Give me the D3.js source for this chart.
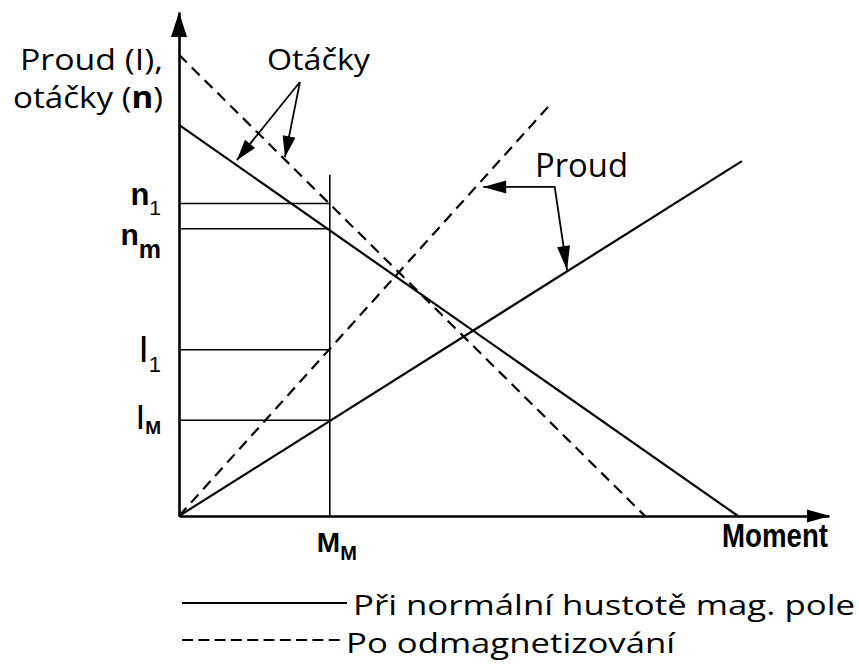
<!DOCTYPE html>
<html>
<head>
<meta charset="utf-8">
<script src="https://cdn.jsdelivr.net/npm/d3@7"></script>
<style>
body { margin: 0; background: #fff; }
svg { display: block; }
</style>
</head>
<body>
<div id="chart-area"></div>
<script>
// values, both axes in relative units 0..100
var speedNormal = [[0, 77.6], [86.0, 0]];
var speedDemag = [[0, 91.5], [71.7, 0]];
var currentNormal = [[0, 0], [86.6, 70.4]];
var currentDemag = [[0, 0], [56.8, 81.2]];
var momentM = 23.2;
var guideTop = 67.7;
var levelMain = ["n", "n", "I", "I"];
var levelSub = ["1", "m", "1", "M"];
var levelValues = [62, 57, 33, 19];
var legendNames = ["Při normální hustotě mag. pole", "Po odmagnetizování"];
// annotation arrows (from -> to), in the same units
var speedArrows = [[[18.6, 86.1], [8.9, 70.6]], [[18.6, 86.1], [16.3, 71.2]]];
var currentArrow = [[46.8, 65.3], [57.8, 65.3], [59.7, 48.8]];

var W = 859, H = 666;
var svg = d3.select("#chart-area").append("svg")
  .attr("width", W)
  .attr("height", H);

var x = d3.scaleLinear().domain([0, 100]).range([179, 829]);
var y = d3.scaleLinear().domain([0, 100]).range([516, 12]);

var labelFont = "'Open Sans', 'Noto Sans', sans-serif";
var tickFont = "'Liberation Sans Narrow', 'Liberation Sans', Arial, sans-serif";

function arrowHead(g, tip, from, len, half) {
  var dx = tip[0] - from[0], dy = tip[1] - from[1];
  var d = Math.sqrt(dx * dx + dy * dy);
  var ux = dx / d, uy = dy / d;
  var bx = tip[0] - ux * len, by = tip[1] - uy * len;
  g.append("polygon")
    .attr("points", [
      [tip[0], tip[1]],
      [bx - uy * half, by + ux * half],
      [bx + uy * half, by - ux * half]
    ].map(function(p) { return p.join(","); }).join(" "))
    .attr("fill", "#000");
}

// axes (domain lines only)
var xAxisGroup = svg.append("g")
  .attr("transform", "translate(0," + y(0) + ")")
  .call(d3.axisBottom(x).tickValues([]).tickSizeOuter(0));
var yAxisGroup = svg.append("g")
  .attr("transform", "translate(" + x(0) + ",0)")
  .call(d3.axisLeft(y).tickValues([]).tickSizeOuter(0));
svg.selectAll(".domain").attr("stroke", "#000").attr("stroke-width", 2.6);
arrowHead(svg, [x(100) + 1, y(0)], [x(0), y(0)], 23, 6.5);
arrowHead(svg, [x(0), y(100)], [x(0), y(0)], 25, 8);

// guide lines at M_M
svg.append("line")
  .attr("x1", x(momentM)).attr("x2", x(momentM))
  .attr("y1", y(0)).attr("y2", y(guideTop))
  .attr("stroke", "#000").attr("stroke-width", 1.6);
svg.selectAll(".level").data(levelValues).enter().append("line")
  .attr("class", "level")
  .attr("x1", x(0)).attr("x2", x(momentM))
  .attr("y1", function(d) { return y(d); })
  .attr("y2", function(d) { return y(d); })
  .attr("stroke", "#000").attr("stroke-width", 1.6);

// characteristic lines
var line = d3.line()
  .x(function(d) { return x(d[0]); })
  .y(function(d) { return y(d[1]); });
var series = [
  { pts: speedNormal, dash: null },
  { pts: speedDemag, dash: "11,7" },
  { pts: currentNormal, dash: null },
  { pts: currentDemag, dash: "11,7" }
];
svg.selectAll(".series").data(series).enter().append("path")
  .attr("class", "series")
  .attr("d", function(d) { return line(d.pts); })
  .attr("fill", "none")
  .attr("stroke", "#000")
  .attr("stroke-width", 2.2)
  .attr("stroke-dasharray", function(d) { return d.dash; });

// level labels on the y axis
var levelLayout = [
  { dy: 1.5, size: 31, weight: "bold", subDy: 10, subSize: 21, subWeight: "normal" },
  { dy: 16.5, size: 30, weight: "bold", subDy: 13, subSize: 25, subWeight: "bold" },
  { dy: 12, size: 37, weight: "normal", subDy: 10, subSize: 22, subWeight: "normal" },
  { dy: 9, size: 35, weight: "normal", subDy: 5, subSize: 19, subWeight: "bold" }
];
levelValues.forEach(function(v, i) {
  var L = levelLayout[i];
  var t = svg.append("text")
    .attr("x", 161)
    .attr("y", y(v) + L.dy)
    .attr("text-anchor", "end")
    .attr("font-family", tickFont);
  t.append("tspan")
    .attr("font-size", L.size)
    .attr("font-weight", L.weight)
    .text(levelMain[i]);
  t.append("tspan")
    .attr("dy", L.subDy)
    .attr("font-size", L.subSize)
    .attr("font-weight", L.subWeight)
    .text(levelSub[i]);
});

// M_M label
var mm = svg.append("text")
  .attr("x", x(momentM) - 13)
  .attr("y", y(0) + 36)
  .attr("font-family", tickFont)
  .attr("font-weight", "bold");
mm.append("tspan").attr("font-size", 28).text("M");
mm.append("tspan").attr("dy", 8).attr("font-size", 20).text("M");

// x label
svg.append("text")
  .attr("x", 722)
  .attr("y", y(0) + 31)
  .attr("font-family", tickFont)
  .attr("font-weight", "bold")
  .attr("font-size", 33)
  .attr("textLength", 106)
  .attr("lengthAdjust", "spacingAndGlyphs")
  .text("Moment");

// y label
svg.append("text")
  .attr("x", 20).attr("y", 70)
  .attr("font-family", labelFont)
  .attr("font-size", 30)
  .attr("textLength", 143)
  .attr("lengthAdjust", "spacingAndGlyphs")
  .text("Proud (I),");
var yl = svg.append("text")
  .attr("x", 13).attr("y", 108)
  .attr("font-family", labelFont)
  .attr("font-size", 30)
  .attr("textLength", 150)
  .attr("lengthAdjust", "spacingAndGlyphs");
yl.append("tspan").text("otáčky (");
yl.append("tspan").attr("font-weight", "bold").text("n");
yl.append("tspan").text(")");

// annotation: Otáčky
svg.append("text")
  .attr("x", 267).attr("y", 70)
  .attr("font-family", labelFont)
  .attr("font-size", 30)
  .attr("textLength", 103)
  .attr("lengthAdjust", "spacingAndGlyphs")
  .text("Otáčky");
speedArrows.forEach(function(a) {
  var p0 = [x(a[0][0]), y(a[0][1])], p1 = [x(a[1][0]), y(a[1][1])];
  svg.append("line")
    .attr("x1", p0[0]).attr("y1", p0[1])
    .attr("x2", p1[0]).attr("y2", p1[1])
    .attr("stroke", "#000").attr("stroke-width", 1.8);
  arrowHead(svg, p1, p0, 21, 6.5);
});

// annotation: Proud
svg.append("text")
  .attr("x", 535).attr("y", 177)
  .attr("font-family", labelFont)
  .attr("font-size", 33)
  .attr("textLength", 93)
  .attr("lengthAdjust", "spacingAndGlyphs")
  .text("Proud");
var ca = currentArrow.map(function(p) { return [x(p[0]), y(p[1])]; });
svg.append("polyline")
  .attr("points", ca.map(function(p) { return p.join(","); }).join(" "))
  .attr("fill", "none")
  .attr("stroke", "#000").attr("stroke-width", 1.8);
arrowHead(svg, ca[0], ca[1], 23, 6.5);
arrowHead(svg, ca[2], ca[1], 24, 6.5);

// legend
var legendLayout = [
  { y: 603, x2: 347, dash: null, ty: 615, tx: 353, len: 502 },
  { y: 640, x2: 345, dash: "11,5.3", ty: 653, tx: 346, len: 329 }
];
legendNames.forEach(function(name, i) {
  var L = legendLayout[i];
  svg.append("line")
    .attr("x1", 182).attr("x2", L.x2)
    .attr("y1", L.y).attr("y2", L.y)
    .attr("stroke", "#000").attr("stroke-width", 2)
    .attr("stroke-dasharray", L.dash);
  svg.append("text")
    .attr("x", L.tx).attr("y", L.ty)
    .attr("font-family", labelFont)
    .attr("font-size", 27)
    .attr("textLength", L.len)
    .attr("lengthAdjust", "spacingAndGlyphs")
    .text(name);
});
</script>
</body>
</html>
